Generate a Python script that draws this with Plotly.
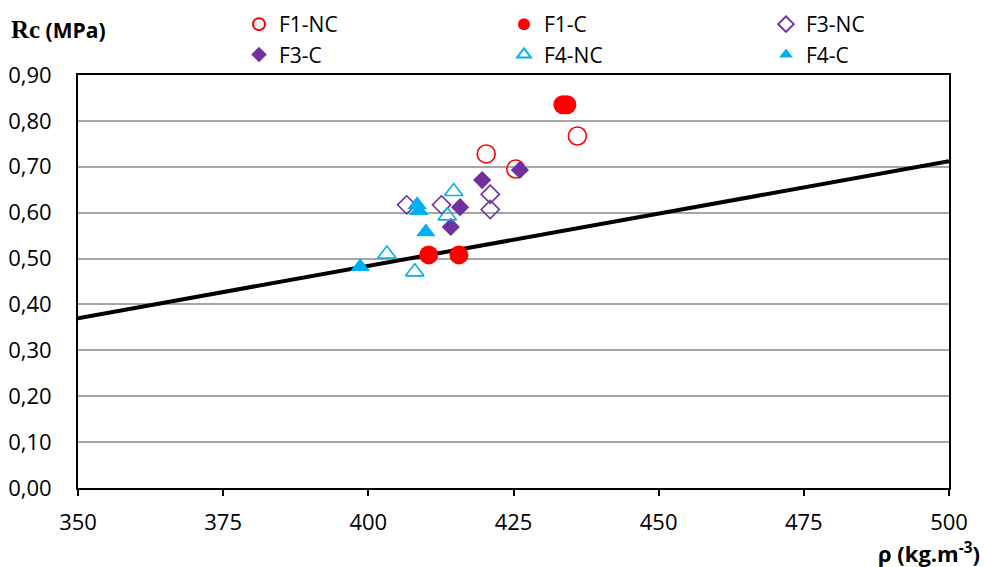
import plotly.graph_objects as go

# Data
f1nc_x = [436.0, 420.3, 425.4]
f1nc_y = [0.767, 0.728, 0.695]
f1c_x = [433.5, 434.2, 410.4, 415.6]
f1c_y = [0.835, 0.835, 0.508, 0.508]
f3nc_x = [406.6, 412.6, 421.0, 421.0]
f3nc_y = [0.617, 0.617, 0.640, 0.607]
f3c_x = [426.1, 419.6, 415.8, 414.2]
f3c_y = [0.693, 0.671, 0.612, 0.569]
f4nc_x = [414.7, 413.6, 403.2, 408.0]
f4nc_y = [0.646, 0.593, 0.510, 0.471]
f4c_x = [408.4, 408.7, 409.9, 398.6]
f4c_y = [0.617, 0.604, 0.558, 0.482]
fit_x = [350, 500]
fit_y = [0.370, 0.712]

RED = "#FF0000"
PURPLE = "#7030A0"
CYAN = "#00B0F0"
FONT = "Open Sans, Noto Sans, sans-serif"

W, H = 984, 567
L, R, T, B = 78, 35, 75, 79
PW, PH = W - L - R, H - T - B

def px_x(px):
    return (px - L) / PW

def px_y(py):
    return (H - B - py) / PH

fig = go.Figure()

def add(name, x, y, symbol, color, size, legend, lw):
    fig.add_trace(go.Scatter(
        x=x, y=y, mode="markers", name=name, legend=legend,
        marker=dict(symbol=symbol, size=size, color=color,
                    line=dict(color=color, width=lw)),
    ))

fig.add_trace(go.Scatter(x=fit_x, y=fit_y, mode="lines", showlegend=False,
                         line=dict(color="black", width=4)))
add("F1-NC", f1nc_x, f1nc_y, "circle-open", RED, 18, "legend", 1.6)
add("F1-C", f1c_x, f1c_y, "circle", RED, 19, "legend2", 0)
add("F3-NC", f3nc_x, f3nc_y, "diamond-open", PURPLE, 14, "legend3", 1.6)
add("F3-C", f3c_x, f3c_y, "diamond", PURPLE, 14, "legend", 0)
add("F4-NC", f4nc_x, f4nc_y, "triangle-up-open", CYAN, 16, "legend2", 1.6)
add("F4-C", f4c_x, f4c_y, "triangle-up", CYAN, 17, "legend3", 0)

tickfont = dict(family=FONT, size=22, color="black")

def leg(xpx):
    return dict(orientation="v", x=xpx / W, xanchor="left", y=1 - 4 / H, yanchor="top",
                xref="container", yref="container",
                font=dict(family=FONT, size=21, color="black"),
                itemsizing="constant", tracegroupgap=0,
                bgcolor="rgba(0,0,0,0)")

fig.update_layout(
    width=W, height=H,
    margin=dict(l=L, r=R, t=T, b=B, autoexpand=False),
    paper_bgcolor="white", plot_bgcolor="white",
    separators=", ",
    showlegend=True,
    legend=leg(239),
    legend2=leg(504),
    legend3=leg(766),
    xaxis=dict(range=[350, 500], dtick=25, tick0=350, showgrid=False,
               showline=True, linecolor="black", linewidth=2, mirror=True,
               ticks="outside", ticklen=6, tickcolor="black", tickwidth=1.5,
               tickfont=tickfont, zeroline=False, automargin=False,
               ticklabelstandoff=8),
    yaxis=dict(range=[0, 0.9], dtick=0.1, tickformat=".2f", showgrid=True,
               gridcolor="#A6A6A6", gridwidth=1.5,
               showline=True, linecolor="black", linewidth=2, mirror=True,
               ticks="", tickfont=tickfont, zeroline=False, automargin=False,
               ticklabelstandoff=20),
    annotations=[
        dict(text="<b><span style='font-family:Liberation Serif, serif;font-size:25px'>Rc</span> (MPa)</b>",
             xref="paper", yref="paper", x=px_x(9), y=px_y(30),
             xanchor="left", yanchor="middle", showarrow=False,
             font=dict(family=FONT, size=21, color="black")),
        dict(text="<b>ρ (kg.m<sup>-3</sup>)</b>", xref="paper", yref="paper",
             x=px_x(982), y=px_y(552),
             xanchor="right", yanchor="middle", showarrow=False,
             font=dict(family=FONT, size=22, color="black")),
    ],
)

fig.write_html("out.html")
